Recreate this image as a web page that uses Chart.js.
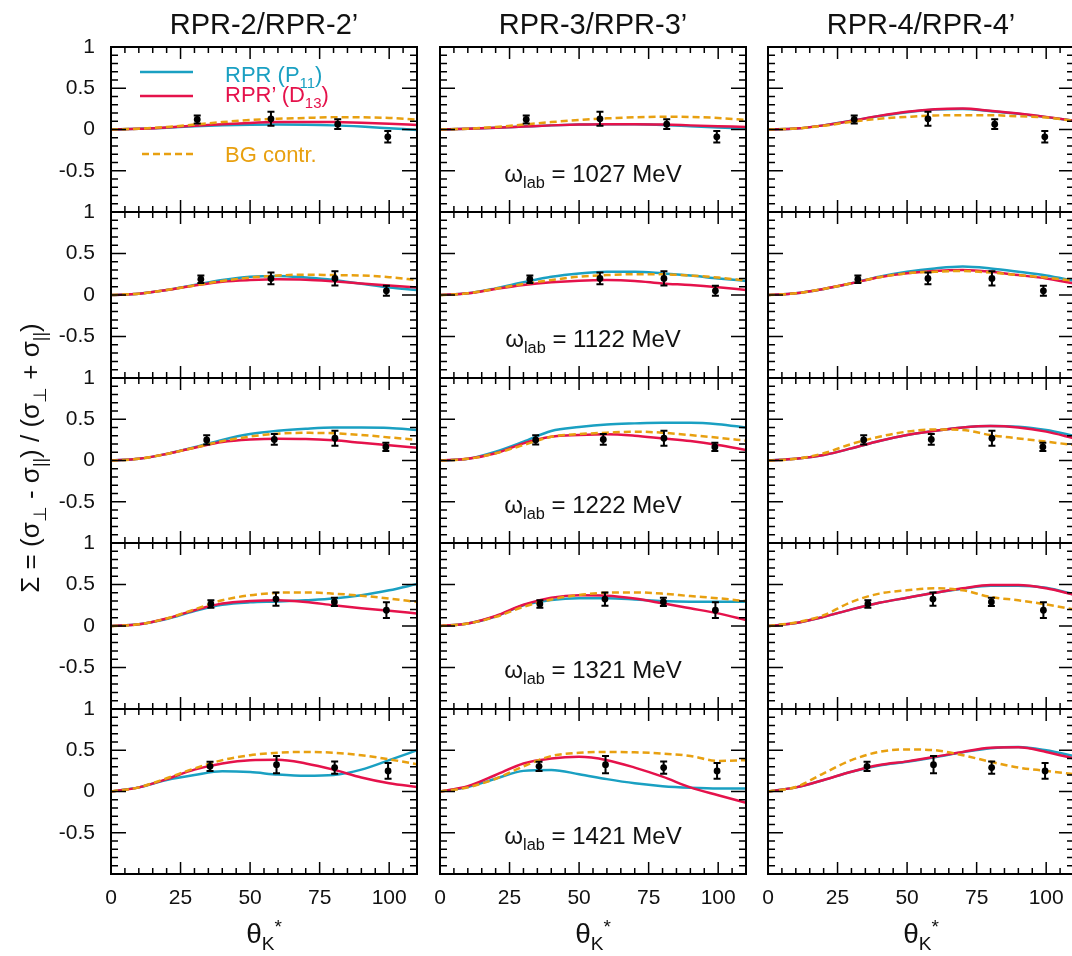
<!DOCTYPE html>
<html>
<head>
<meta charset="utf-8">
<script src="https://cdn.jsdelivr.net/npm/chart.js@4.4.0/dist/chart.umd.min.js"></script>
<style>
html, body { margin: 0; padding: 0; background: #fff; }
#fig { position: relative; width: 1072px; height: 956px; overflow: hidden; font-family: "Liberation Sans", Arial, sans-serif; color: #111; }
#fig canvas { position: absolute; }
.txt { position: absolute; white-space: nowrap; }
.sub { font-size: 0.68em; position: relative; top: 0.38em; }
.sup { font-size: 0.68em; position: relative; top: -0.55em; }
.title { font-size: 29px; line-height: 30px; text-align: center; }
.energy { font-size: 24px; line-height: 24px; text-align: center; }
.legend { font-size: 22px; line-height: 22px; }
.xtitle { font-size: 28px; line-height: 30px; text-align: center; }
.ytitle { font-size: 26px; line-height: 30px; text-align: center; width: 420px; height: 30px; transform: rotate(-90deg); }
</style>
</head>
<body>
<div id="fig"></div>
<script>
// angle grid of the model curves (deg)
const theta = [0, 10, 20, 30, 40, 50, 60, 70, 80, 90, 100, 110];
const energies = ['1027', '1122', '1222', '1321', '1421'];
const modelTitles = ['RPR-2/RPR-2’', 'RPR-3/RPR-3’', 'RPR-4/RPR-4’'];

const xTickValues = [0, 25, 50, 75, 100];
const xTickLabels = ['0', '25', '50', '75', '100'];
const yTickValues = [1, 0.5, 0, -0.5];
const yTickLabels = ['1', '0.5', '0', '-0.5'];

// experimental points, one row per photon energy
const expTheta = [[31, 57.5, 81.5, 99.5], [32.3, 57.5, 80.5, 99], [34.4, 58.7, 80.5, 98.8], [35.9, 59.3, 80.3, 99], [35.6, 59.5, 80.4, 99.6]];
const expSigma = [[0.121, 0.129, 0.065, -0.089], [0.19, 0.2, 0.2, 0.05], [0.25, 0.255, 0.27, 0.165], [0.265, 0.325, 0.29, 0.19], [0.305, 0.325, 0.29, 0.25]];
const expError = [[0.048, 0.085, 0.06, 0.07], [0.045, 0.07, 0.085, 0.06], [0.055, 0.065, 0.09, 0.05], [0.045, 0.08, 0.05, 0.095], [0.055, 0.105, 0.075, 0.095]];

// RPR-2 / RPR-2'
const rpr2P11 = [
    [0, 0.008, 0.022, 0.038, 0.05, 0.057, 0.06, 0.058, 0.05, 0.035, 0.015, -0.005],
    [0, 0.016, 0.06, 0.12, 0.18, 0.22, 0.23, 0.21, 0.18, 0.135, 0.09, 0.06],
    [0, 0.02, 0.08, 0.16, 0.25, 0.32, 0.36, 0.385, 0.4, 0.4, 0.395, 0.37],
    [0, 0.02, 0.085, 0.18, 0.255, 0.285, 0.295, 0.31, 0.33, 0.37, 0.43, 0.505],
    [0, 0.05, 0.14, 0.2, 0.245, 0.235, 0.205, 0.19, 0.2, 0.265, 0.38, 0.5]
];
const rpr2D13 = [
    [0, 0.008, 0.025, 0.045, 0.065, 0.08, 0.09, 0.092, 0.09, 0.082, 0.07, 0.055],
    [0, 0.016, 0.06, 0.115, 0.16, 0.18, 0.19, 0.185, 0.165, 0.14, 0.115, 0.09],
    [0, 0.02, 0.08, 0.155, 0.225, 0.255, 0.265, 0.262, 0.245, 0.215, 0.185, 0.155],
    [0, 0.02, 0.09, 0.19, 0.27, 0.3, 0.31, 0.29, 0.25, 0.215, 0.185, 0.15],
    [0, 0.05, 0.15, 0.265, 0.34, 0.38, 0.385, 0.34, 0.265, 0.17, 0.1, 0.055]
];
const rpr2BG = [
    [0, 0.01, 0.03, 0.06, 0.09, 0.115, 0.13, 0.14, 0.15, 0.148, 0.14, 0.12],
    [0, 0.016, 0.06, 0.115, 0.17, 0.21, 0.235, 0.245, 0.24, 0.235, 0.215, 0.18],
    [0, 0.02, 0.08, 0.155, 0.235, 0.29, 0.325, 0.335, 0.33, 0.31, 0.28, 0.25],
    [0, 0.02, 0.09, 0.2, 0.31, 0.37, 0.4, 0.405, 0.39, 0.365, 0.33, 0.29],
    [0, 0.05, 0.16, 0.28, 0.38, 0.44, 0.47, 0.48, 0.47, 0.44, 0.39, 0.33]
];

// RPR-3 / RPR-3'
const rpr3P11 = [
    [0, 0.008, 0.02, 0.035, 0.05, 0.06, 0.065, 0.063, 0.055, 0.04, 0.025, 0.01],
    [0, 0.02, 0.08, 0.153, 0.22, 0.26, 0.28, 0.28, 0.26, 0.234, 0.2, 0.17],
    [0, 0.02, 0.107, 0.228, 0.357, 0.405, 0.437, 0.45, 0.458, 0.458, 0.44, 0.4],
    [0, 0.03, 0.115, 0.25, 0.313, 0.334, 0.334, 0.32, 0.3, 0.293, 0.293, 0.293],
    [0, 0.055, 0.155, 0.25, 0.26, 0.21, 0.15, 0.1, 0.065, 0.045, 0.035, 0.035]
];
const rpr3D13 = [
    [0, 0.008, 0.02, 0.035, 0.05, 0.06, 0.065, 0.065, 0.06, 0.05, 0.04, 0.03],
    [0, 0.02, 0.073, 0.12, 0.153, 0.173, 0.18, 0.17, 0.14, 0.12, 0.093, 0.06],
    [0, 0.02, 0.087, 0.208, 0.288, 0.308, 0.317, 0.3, 0.268, 0.236, 0.188, 0.127],
    [0, 0.03, 0.12, 0.256, 0.34, 0.37, 0.365, 0.33, 0.273, 0.213, 0.152, 0.071],
    [0, 0.065, 0.2, 0.34, 0.4, 0.42, 0.38, 0.29, 0.18, 0.05, -0.045, -0.137]
];
const rpr3BG = [
    [0, 0.01, 0.03, 0.06, 0.09, 0.115, 0.135, 0.148, 0.155, 0.152, 0.14, 0.115],
    [0, 0.02, 0.075, 0.133, 0.18, 0.22, 0.24, 0.25, 0.25, 0.234, 0.21, 0.173],
    [0, 0.02, 0.087, 0.188, 0.288, 0.32, 0.337, 0.35, 0.337, 0.308, 0.276, 0.24],
    [0, 0.03, 0.11, 0.23, 0.32, 0.374, 0.4, 0.405, 0.39, 0.36, 0.334, 0.3],
    [0, 0.05, 0.155, 0.305, 0.43, 0.47, 0.48, 0.475, 0.46, 0.43, 0.37, 0.38]
];

// RPR-4 / RPR-4'
const rpr4P11 = [
    [0, 0.012, 0.05, 0.105, 0.163, 0.21, 0.242, 0.25, 0.222, 0.19, 0.15, 0.105],
    [0, 0.02, 0.073, 0.141, 0.22, 0.28, 0.32, 0.343, 0.32, 0.28, 0.234, 0.17],
    [0, 0.02, 0.067, 0.147, 0.236, 0.308, 0.36, 0.4, 0.417, 0.41, 0.37, 0.3],
    [0, 0.035, 0.11, 0.2, 0.28, 0.34, 0.4, 0.45, 0.485, 0.485, 0.46, 0.38],
    [0, 0.05, 0.14, 0.24, 0.315, 0.36, 0.415, 0.475, 0.525, 0.54, 0.5, 0.43]
];
const rpr4D13 = [
    [0, 0.012, 0.05, 0.105, 0.165, 0.214, 0.246, 0.254, 0.226, 0.194, 0.153, 0.105],
    [0, 0.02, 0.073, 0.141, 0.214, 0.262, 0.29, 0.3, 0.28, 0.24, 0.2, 0.14],
    [0, 0.02, 0.067, 0.147, 0.236, 0.308, 0.36, 0.4, 0.417, 0.4, 0.35, 0.27],
    [0, 0.035, 0.11, 0.2, 0.28, 0.34, 0.4, 0.454, 0.494, 0.494, 0.454, 0.375],
    [0, 0.05, 0.14, 0.24, 0.32, 0.365, 0.42, 0.48, 0.53, 0.535, 0.48, 0.4]
];
const rpr4BG = [
    [0, 0.012, 0.045, 0.093, 0.13, 0.153, 0.17, 0.173, 0.173, 0.16, 0.145, 0.105],
    [0, 0.02, 0.073, 0.141, 0.214, 0.262, 0.28, 0.29, 0.27, 0.24, 0.21, 0.17],
    [0, 0.02, 0.087, 0.2, 0.288, 0.35, 0.377, 0.37, 0.308, 0.268, 0.228, 0.188],
    [0, 0.043, 0.13, 0.29, 0.39, 0.43, 0.455, 0.43, 0.35, 0.31, 0.26, 0.2],
    [0, 0.055, 0.22, 0.38, 0.48, 0.51, 0.5, 0.44, 0.36, 0.29, 0.25, 0.21]
];

const models = [
    [rpr2P11, rpr2D13, rpr2BG],
    [rpr3P11, rpr3D13, rpr3BG],
    [rpr4P11, rpr4D13, rpr4BG]
];

const CYAN = '#1aa0c2';
const RED = '#e5124b';
const ORANGE = '#e8a010';
const FONT = '"Liberation Sans", Arial, sans-serif';

// panel geometry (page px)
const colLeft = [111, 440, 768];
const plotW = 306;
const rowEdge = [47, 212, 378, 543, 709, 874];
const PAD = 14;

const fig = document.getElementById('fig');

function addText(cls, html, css) {
    const d = document.createElement('div');
    d.className = 'txt ' + cls;
    d.innerHTML = html;
    Object.assign(d.style, css);
    fig.appendChild(d);
    return d;
}

// error bars on the experimental points
const errorBars = {
    id: 'errorBars',
    afterDatasetsDraw(chart) {
        const ds = chart.data.datasets[0];
        const meta = chart.getDatasetMeta(0);
        const ys = chart.scales.y;
        const ctx = chart.ctx;
        ctx.save();
        ctx.strokeStyle = '#000';
        ctx.lineWidth = 2;
        meta.data.forEach(function (pt, i) {
            const v = ds.data[i].y, e = ds.yErr[i];
            const y1 = ys.getPixelForValue(v + e), y2 = ys.getPixelForValue(v - e);
            ctx.beginPath();
            ctx.moveTo(pt.x, y1); ctx.lineTo(pt.x, y2);
            ctx.moveTo(pt.x - 3.5, y1); ctx.lineTo(pt.x + 3.5, y1);
            ctx.moveTo(pt.x - 3.5, y2); ctx.lineTo(pt.x + 3.5, y2);
            ctx.stroke();
        });
        ctx.restore();
    }
};

// box with inward major/minor ticks on all four sides
const frameTicks = {
    id: 'frameTicks',
    afterDraw(chart) {
        const ctx = chart.ctx, a = chart.chartArea;
        const xs = chart.scales.x, ys = chart.scales.y;
        ctx.save();
        ctx.strokeStyle = '#000';
        ctx.lineWidth = 1.5;
        ctx.beginPath();
        for (let v = 0; v <= 110; v += 5) {
            const px = xs.getPixelForValue(v);
            const len = v % 25 === 0 ? 12 : 6;
            ctx.moveTo(px, a.top); ctx.lineTo(px, a.top + len);
            ctx.moveTo(px, a.bottom); ctx.lineTo(px, a.bottom - len);
        }
        for (let k = -10; k <= 10; k++) {
            const py = ys.getPixelForValue(k / 10);
            const len = k % 5 === 0 ? 15 : 7;
            ctx.moveTo(a.left, py); ctx.lineTo(a.left + len, py);
            ctx.moveTo(a.right, py); ctx.lineTo(a.right - len, py);
        }
        ctx.stroke();
        ctx.lineWidth = 2;
        ctx.strokeRect(a.left, a.top, a.right - a.left, a.bottom - a.top);
        ctx.restore();
    }
};

// line samples of the legend in the first panel
const legendSamples = {
    id: 'legendSamples',
    afterDraw(chart) {
        const ctx = chart.ctx, a = chart.chartArea;
        ctx.save();
        ctx.lineWidth = 2.5;
        ctx.strokeStyle = CYAN;
        ctx.beginPath(); ctx.moveTo(a.left + 29, a.top + 25); ctx.lineTo(a.left + 82, a.top + 25); ctx.stroke();
        ctx.strokeStyle = RED;
        ctx.beginPath(); ctx.moveTo(a.left + 29, a.top + 49); ctx.lineTo(a.left + 82, a.top + 49); ctx.stroke();
        ctx.strokeStyle = ORANGE;
        ctx.setLineDash([7, 4]);
        ctx.beginPath(); ctx.moveTo(a.left + 31, a.top + 107); ctx.lineTo(a.left + 82, a.top + 107); ctx.stroke();
        ctx.restore();
    }
};

function curve(vals, color, dash) {
    return {
        data: theta.map((t, i) => ({ x: t, y: vals[i] })),
        showLine: true,
        pointRadius: 0,
        borderColor: color,
        borderWidth: 2.5,
        borderDash: dash || [],
        cubicInterpolationMode: 'monotone',
        fill: false,
        clip: 0
    };
}

// keep the label overhang of an axis from shrinking the plot area
function noLabelPadding(s) {
    s.paddingTop = 0; s.paddingBottom = 0; s.paddingLeft = 0; s.paddingRight = 0;
}

for (let r = 0; r < 5; r++) {
    for (let c = 0; c < 3; c++) {
        const isLeft = c === 0, isBottom = r === 4;
        const rowH = rowEdge[r + 1] - rowEdge[r];
        const yAxisW = colLeft[0];
        const xAxisH = 48;
        const cv = document.createElement('canvas');
        const left = isLeft ? 0 : colLeft[c] - PAD;
        const top = rowEdge[r] - PAD;
        const w = (isLeft ? yAxisW : PAD) + plotW + PAD;
        const h = PAD + rowH + (isBottom ? xAxisH : PAD);
        cv.width = w; cv.height = h;
        cv.style.left = left + 'px'; cv.style.top = top + 'px';
        cv.style.width = w + 'px'; cv.style.height = h + 'px';
        fig.appendChild(cv);

        const set = models[c];
        const pts = expTheta[r].map((t, i) => ({ x: t, y: expSigma[r][i] }));
        const plugins = [errorBars, frameTicks];
        if (r === 0 && c === 0) plugins.push(legendSamples);

        const xScale = {
            type: 'linear', min: 0, max: 110, display: isBottom,
            grid: { display: false, drawTicks: false, tickLength: 0 },
            border: { display: false },
            ticks: {
                stepSize: 25, includeBounds: false, padding: 12, maxRotation: 0, autoSkip: false,
                color: '#111', font: { family: FONT, size: 21 },
                callback: function (v) {
                    const i = xTickValues.indexOf(v);
                    return i < 0 ? '' : xTickLabels[i];
                }
            },
            afterFit: function (s) {
                if (isBottom) s.height = xAxisH;
                noLabelPadding(s);
            }
        };

        const yScale = {
            type: 'linear', min: -1, max: 1, display: isLeft,
            grid: { display: false, drawTicks: false, tickLength: 0 },
            border: { display: false },
            ticks: {
                stepSize: 0.5, includeBounds: false, padding: 16, autoSkip: false,
                color: '#111', font: { family: FONT, size: 21 },
                callback: function (v) {
                    const i = yTickValues.indexOf(v);
                    return i < 0 ? '' : yTickLabels[i];
                }
            },
            afterFit: function (s) {
                if (isLeft) s.width = yAxisW;
                noLabelPadding(s);
            }
        };

        new Chart(cv.getContext('2d'), {
            type: 'scatter',
            data: {
                datasets: [
                    { data: pts, yErr: expError[r], pointRadius: 3.4, backgroundColor: '#000', borderColor: '#000', borderWidth: 0, showLine: false },
                    curve(set[2][r], ORANGE, [7, 4]),
                    curve(set[1][r], RED),
                    curve(set[0][r], CYAN)
                ]
            },
            options: {
                responsive: false,
                animation: false,
                events: [],
                layout: { autoPadding: false, padding: { left: isLeft ? 0 : PAD, right: PAD, top: PAD, bottom: isBottom ? 0 : PAD } },
                plugins: { legend: { display: false }, tooltip: { enabled: false } },
                scales: { x: xScale, y: yScale }
            },
            plugins: plugins
        });
    }
}

// column titles and x-axis titles
for (let c = 0; c < 3; c++) {
    addText('title', modelTitles[c], { left: colLeft[c] + 'px', top: '9px', width: plotW + 'px' });
    addText('xtitle', 'θ<span class="sub">K</span><span class="sup">*</span>', { left: colLeft[c] + 'px', top: '919px', width: plotW + 'px' });
}

// photon energy labels in the middle column
for (let r = 0; r < 5; r++) {
    addText('energy', 'ω<span class="sub">lab</span> = ' + energies[r] + ' MeV', { left: colLeft[1] + 'px', top: (rowEdge[r] + 115) + 'px', width: plotW + 'px' });
}

// legend labels
addText('legend', 'RPR (P<span class="sub">11</span>)', { left: '225px', top: '64px', color: CYAN });
addText('legend', 'RPR’ (D<span class="sub">13</span>)', { left: '225px', top: '84px', color: RED });
addText('legend', 'BG contr.', { left: '225px', top: '144px', color: ORANGE });

// y-axis title
addText('ytitle', 'Σ = (σ<span class="sub">⊥</span> - σ<span class="sub">||</span>) / (σ<span class="sub">⊥</span> + σ<span class="sub">||</span>)', { left: (30 - 210) + 'px', top: (458 - 15) + 'px' });
</script>
</body>
</html>
